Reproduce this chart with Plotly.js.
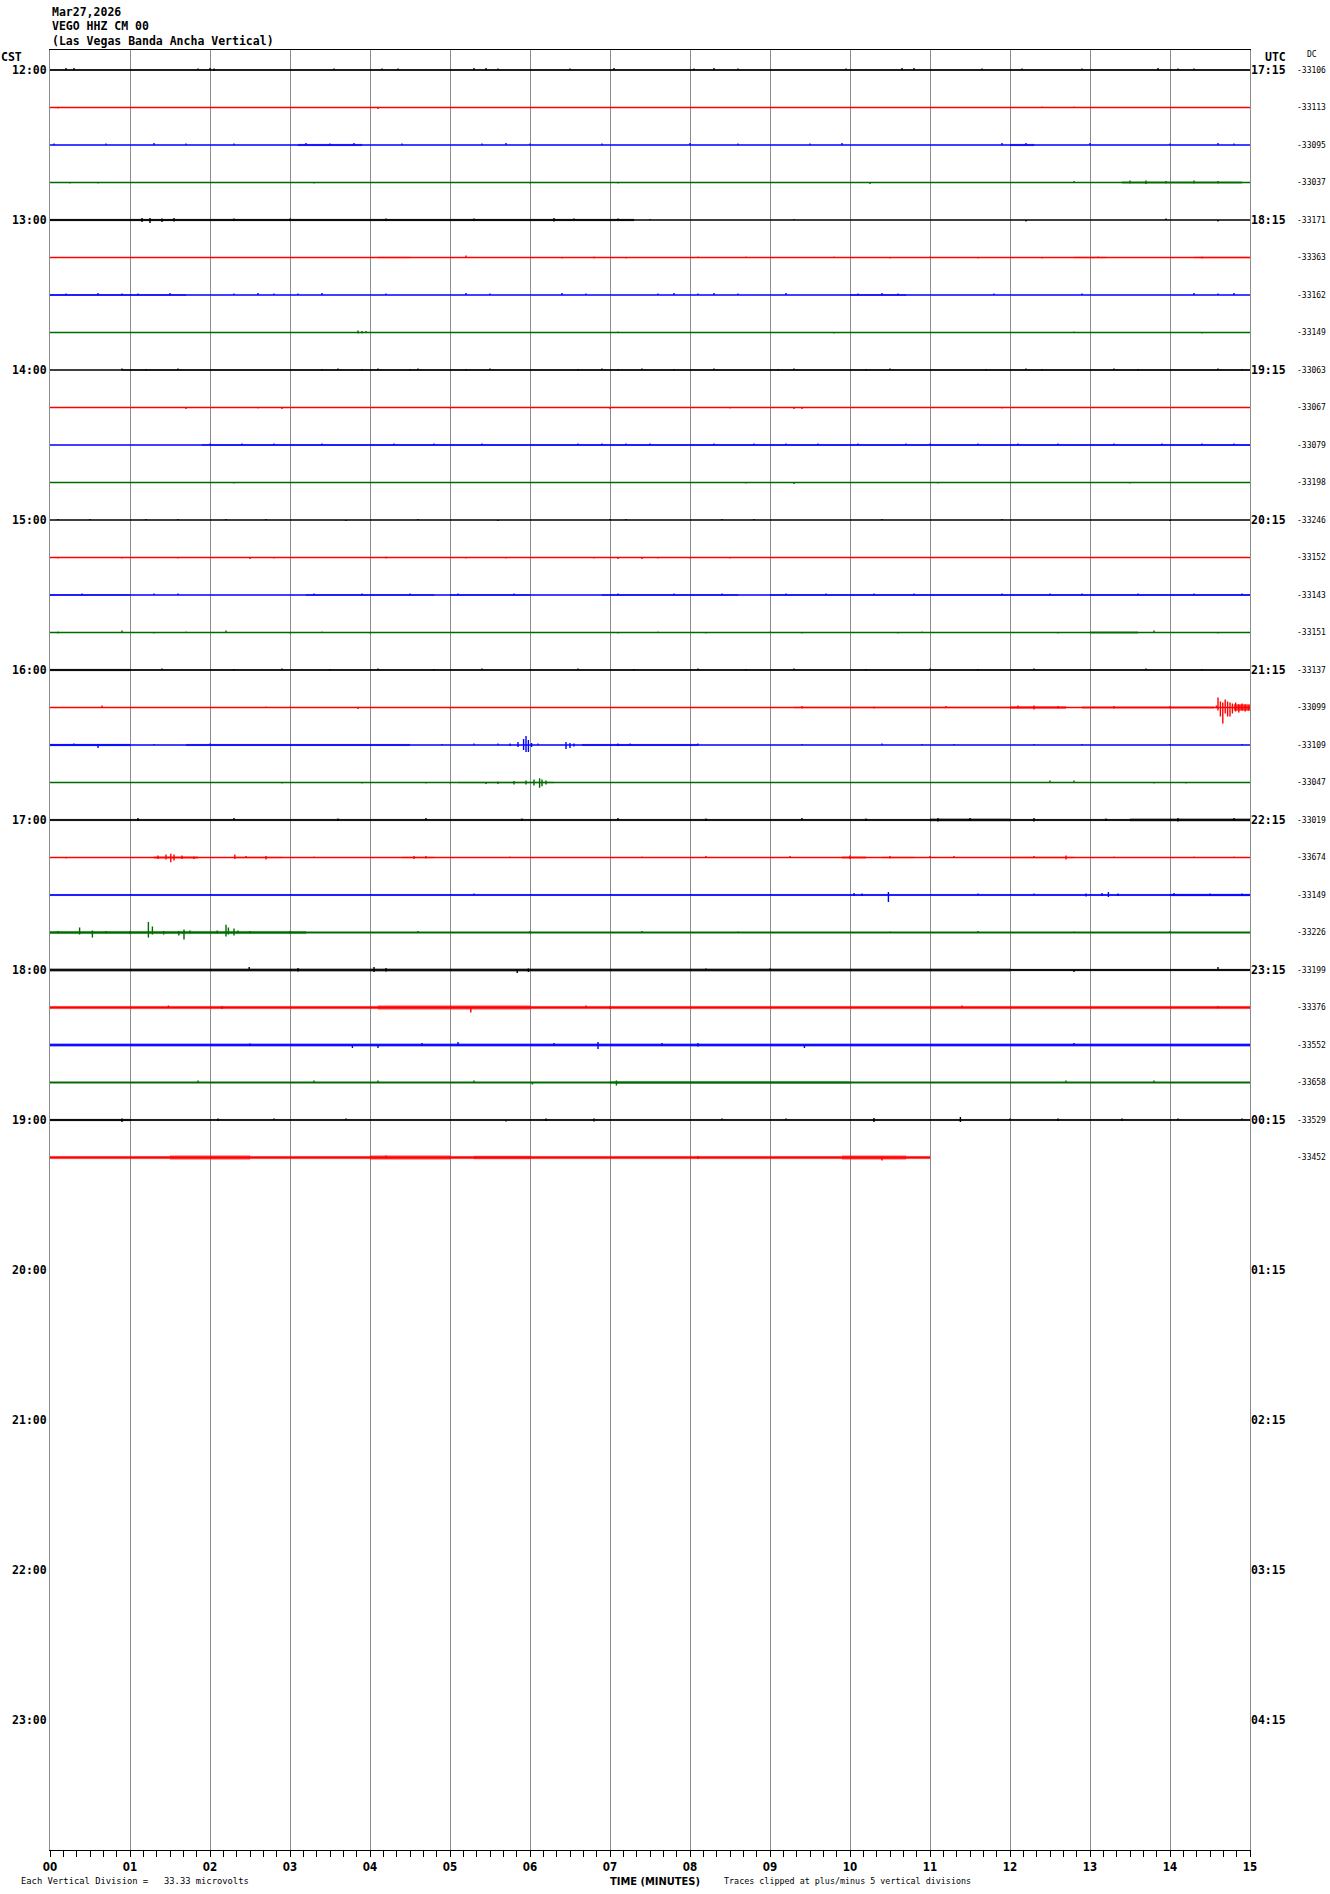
<!DOCTYPE html>
<html><head><meta charset="utf-8">
<script src="https://cdn.plot.ly/plotly-3.0.1.min.js"></script>
<style>html,body{margin:0;padding:0;background:#fff}</style>
</head><body><div id="chart" style="width:1330px;height:1894px"></div>
<script>
// ---------------- DATA ----------------
const headerLines = ['Mar27,2026', 'VEGO HHZ CM 00', '(Las Vegas Banda Ancha Vertical)'];
const minuteTicks = [0,1,2,3,4,5,6,7,8,9,10,11,12,13,14,15];
const minuteLabels = ['00','01','02','03','04','05','06','07','08','09','10','11','12','13','14','15'];
const hourRows = [0,4,8,12,16,20,24,28,32,36,40,44];
const hourLabelsCST = ['12:00','13:00','14:00','15:00','16:00','17:00','18:00','19:00','20:00','21:00','22:00','23:00'];
const hourLabelsUTC = ['17:15','18:15','19:15','20:15','21:15','22:15','23:15','00:15','01:15','02:15','03:15','04:15'];
const dcValues = [-33106,-33113,-33095,-33037,-33171,-33363,-33162,-33149,-33063,-33067,-33079,-33198,
  -33246,-33152,-33143,-33151,-33137,-33099,-33109,-33047,-33019,-33674,-33149,-33226,
  -33199,-33376,-33552,-33658,-33529,-33452];
const traceColors = ['#000000','#ff0000','#0000ff','#006a00'];
const traceEndMinute = [15,15,15,15,15,15,15,15,15,15,15,15,15,15,15,15,15,15,15,15,15,15,15,15,15,15,15,15,15,11];
const divisionsPerRow = 5;   // vertical divisions between neighbouring trace baselines
const clipDivisions = 5;
const scaleText = 'Each Vertical Division =   33.33 microvolts';
const clipText = 'Traces clipped at plus/minus 5 vertical divisions';
const axisTitle = 'TIME (MINUTES)';

// background noise bands per trace: [start min, end min, half amplitude in divisions]
const noiseBands = [
  [[0,15,0.07]],
  [],
  [[3.1,3.9,0.1],[12.0,12.3,0.1]],
  [[13.4,14.9,0.1]],
  [[0,7.3,0.12]],
  [[4.1,4.5,0.07],[12.8,13.2,0.07],[14.3,15,0.07]],
  [[0,1.7,0.07],[10.0,10.7,0.07]],
  [],
  [[0.9,15,0.06]],
  [],
  [[1.9,15,0.07]],
  [],
  [],
  [],
  [[0,1,0.06],[3.2,4.8,0.06],[5,6,0.06],[6.9,8.6,0.06],[9,15,0.06]],
  [[13.0,13.6,0.1]],
  [[0,1.0,0.12],[1,15,0.06]],
  [[9.3,12.0,0.08],[12.0,12.7,0.13],[12.9,14.55,0.1],[14.8,15,0.4]],
  [[0,1.0,0.12],[1.7,4.5,0.09],[6.65,8.1,0.09]],
  [[5.1,6.3,0.07]],
  [[0,15,0.1],[11,12,0.15],[13.5,15,0.15]],
  [[1.3,1.85,0.1],[2.3,2.9,0.07],[4.4,4.8,0.07],[9.9,10.2,0.1],[10.4,10.8,0.07],[12.0,12.8,0.07]],
  [[0,15,0.08],[14.0,15,0.12]],
  [[0,3.2,0.16],[3.2,15,0.09]],
  [[0,12,0.17],[12,15,0.13]],
  [[0,15,0.17],[4.1,6.0,0.23]],
  [[0,15,0.17]],
  [[0,15,0.09],[7.0,10.0,0.13]],
  [[0,1.0,0.12],[1,15,0.08]],
  [[0,11,0.17],[1.5,2.5,0.23],[4.0,5.0,0.23],[5.3,6.0,0.2],[9.9,10.7,0.22]]
];

// discrete excursions per trace: [minute, up (divisions), down (divisions)]
const spikes = [
  [[0.2,0.27,0],[0.3,0.27,0],[1.85,0.2,0],[2.0,0.27,0],[2.05,0.2,0.13],[3.55,0.2,0],[4.15,0.2,0],[4.35,0.2,0],[5.3,0.27,0],[5.45,0.27,0],[5.6,0.2,0],[6.5,0.2,0],[7.05,0.27,0],[8.05,0.2,0],[8.3,0.27,0],[8.6,0.2,0],[9.95,0.2,0],[10.65,0.27,0],[10.8,0.27,0],[11.65,0.2,0],[12.15,0.2,0],[12.9,0.2,0],[13.85,0.27,0],[14.1,0.2,0],[14.3,0.2,0]],
  [[0.1,0,0.13],[4.1,0,0.2],[12.4,0.13,0],[12.8,0.13,0]],
  [[0.05,0.2,0],[0.7,0.2,0],[1.3,0.27,0],[1.7,0.2,0],[2.3,0.2,0],[3.2,0.27,0],[3.5,0.2,0],[3.8,0.27,0],[4.4,0.2,0],[5.4,0.2,0],[5.7,0.27,0],[6.0,0.2,0],[6.9,0.2,0],[8.0,0.27,0],[8.6,0.2,0],[9.5,0.2,0],[9.9,0.27,0],[11.9,0.27,0],[12.2,0.27,0],[13.0,0.27,0],[14.0,0.2,0],[14.6,0.27,0],[14.8,0.2,0]],
  [[0.25,0,0.13],[0.6,0,0.13],[3.3,0,0.13],[6.0,0,0.13],[7.1,0,0.13],[10.25,0,0.2],[12.8,0.2,0],[13.5,0.27,0.13],[13.7,0.27,0.2],[13.95,0.2,0.13],[14.3,0.27,0.13],[14.6,0.2,0.13]],
  [[1.15,0.27,0.27],[1.25,0.27,0.4],[1.4,0.2,0.27],[1.55,0.27,0.2],[2.3,0.2,0.13],[3.0,0.2,0.13],[4.2,0.2,0.13],[5.3,0.2,0.13],[6.3,0.27,0.2],[6.55,0.2,0],[7.1,0.2,0],[7.5,0.13,0],[9.3,0.13,0],[12.2,0,0.2],[13.95,0.2,0],[14.6,0,0.2]],
  [[5.2,0.27,0],[6.4,0,0.13],[6.8,0.13,0.13],[7.2,0,0.13],[8.1,0.13,0],[8.7,0.13,0],[9.8,0.13,0],[10.5,0,0.13],[11.0,0.13,0],[11.6,0,0.13],[12.4,0,0.13],[13.1,0.13,0],[14.4,0.13,0.13]],
  [[0.2,0.2,0],[0.6,0.27,0],[0.9,0.2,0],[1.1,0.2,0],[1.5,0.27,0],[2.3,0.2,0],[2.6,0.27,0],[2.8,0.2,0],[3.1,0.2,0],[3.4,0.27,0],[4.2,0.2,0],[5.2,0.27,0],[5.5,0.2,0],[6.4,0.27,0],[6.7,0.2,0],[7.6,0.2,0],[7.8,0.27,0],[8.1,0.2,0],[8.3,0.27,0],[8.6,0.2,0],[9.2,0.27,0],[10.1,0.2,0],[10.4,0.27,0],[10.6,0.2,0],[11.8,0.2,0],[12.9,0.2,0],[14.3,0.27,0],[14.6,0.2,0],[14.8,0.27,0]],
  [[3.85,0.27,0.13],[3.9,0.2,0.13],[3.95,0.2,0],[7.1,0.13,0],[9.8,0,0.13],[12.8,0.13,0],[14.4,0,0.13]],
  [[0.9,0.2,0],[1.2,0.13,0],[1.6,0.2,0],[3.4,0.13,0],[3.6,0.2,0],[3.9,0.13,0],[4.1,0.2,0],[4.5,0.13,0],[4.6,0.2,0],[5.2,0.13,0],[5.5,0.2,0],[6.6,0.13,0],[6.9,0.2,0],[7.1,0.13,0],[7.4,0.2,0],[7.8,0.13,0],[8.3,0.2,0],[9.1,0.13,0],[9.3,0.2,0],[10.2,0.13,0],[10.5,0.2,0],[11.7,0.13,0],[12.2,0.2,0],[12.4,0.13,0],[13.3,0.2,0],[13.6,0.13,0],[14.6,0.2,0],[14.9,0.13,0]],
  [[1.7,0,0.2],[2.6,0,0.13],[2.9,0,0.2],[5.0,0,0.13],[7.0,0,0.2],[8.5,0,0.13],[9.3,0,0.2],[9.4,0,0.2],[11.9,0,0.13]],
  [[2.0,0.2,0],[2.4,0.2,0],[2.8,0.2,0],[3.4,0.2,0],[4.3,0.2,0],[4.8,0.2,0],[5.4,0.2,0],[6.6,0.2,0],[6.9,0.2,0],[7.2,0.2,0],[7.5,0.2,0],[8.3,0.2,0],[8.8,0.2,0],[9.2,0.2,0],[9.6,0.2,0],[10.1,0.2,0],[10.7,0.2,0],[11.0,0.2,0],[11.6,0.2,0],[12.1,0.2,0],[12.6,0.2,0],[13.3,0.2,0],[13.9,0.2,0],[14.4,0.2,0],[14.8,0.2,0]],
  [[2.3,0,0.13],[8.7,0,0.13],[9.3,0,0.2],[11.1,0,0.13],[13.5,0,0.13]],
  [[0.1,0.13,0],[0.5,0.13,0],[1.2,0.13,0],[1.6,0.13,0],[2.2,0.13,0],[2.7,0.13,0],[3.7,0,0.13],[4.6,0.13,0],[5.6,0,0.13],[7.0,0.13,0],[7.2,0.13,0],[8.4,0.13,0],[8.8,0.13,0],[10.4,0.13,0],[11.9,0.13,0],[14.0,0,0.13]],
  [[0.1,0,0.13],[0.9,0,0.13],[1.6,0,0.13],[2.5,0,0.2],[2.8,0,0.13],[4.2,0.13,0.13],[5.2,0,0.13],[5.7,0,0.13],[6.8,0,0.13],[7.1,0,0.2],[7.4,0,0.2],[7.6,0,0.13],[8.0,0,0.13],[8.5,0,0.13]],
  [[0.4,0.2,0],[1.3,0.2,0],[1.6,0.2,0],[3.3,0.2,0],[3.9,0.2,0],[4.5,0.2,0],[5.1,0.2,0],[5.8,0.2,0],[7.1,0.2,0],[7.8,0.2,0],[8.4,0.2,0],[9.2,0.2,0],[9.7,0.2,0],[10.3,0.2,0],[10.8,0.2,0],[11.9,0.2,0],[12.5,0.2,0],[12.9,0.2,0],[13.6,0.2,0],[14.3,0.2,0],[14.9,0.2,0]],
  [[0.1,0.13,0.13],[0.9,0.27,0],[1.3,0,0.13],[1.7,0.13,0],[2.2,0.27,0],[3.0,0,0.13],[3.4,0.13,0],[4.0,0,0.13],[7.1,0,0.13],[7.6,0.13,0],[8.2,0,0.13],[9.0,0.13,0],[9.4,0,0.13],[10.6,0,0.13],[10.9,0.13,0],[12.6,0,0.13],[13.8,0.27,0],[14.6,0,0.13]],
  [[1.4,0.2,0],[2.3,0.13,0],[2.9,0.2,0],[3.5,0.13,0],[4.1,0.2,0],[4.8,0.13,0],[5.4,0.2,0],[6.0,0.13,0],[6.6,0.2,0],[7.3,0.13,0],[8.1,0.2,0],[8.7,0.13,0],[9.3,0.2,0],[10.2,0.13,0],[11.0,0.2,0],[11.6,0.13,0],[12.3,0.2,0],[13.0,0.13,0],[13.7,0.2,0],[14.4,0.13,0]],
  [[0.65,0.27,0],[2.7,0.13,0],[3.0,0.13,0],[3.85,0,0.2],[5.0,0,0.13],[9.4,0.2,0.13],[10.3,0.13,0.13],[11.2,0.2,0],[12.1,0.27,0.13],[12.3,0.27,0.27],[12.6,0.2,0.13],[13.3,0.2,0.13],[14.0,0.2,0.13],[14.58,0.27,0.13],[14.6,1.33,0.4],[14.63,0.8,1.2],[14.66,0.67,2.13],[14.69,1.07,0.8],[14.72,0.8,1.2],[14.75,0.67,1.2],[14.78,0.53,0.8],[14.82,0.67,0.53],[14.86,0.4,0.67],[14.9,0.53,0.4],[14.94,0.4,0.53],[14.98,0.27,0.4]],
  [[0.3,0.2,0],[0.6,0.13,0.4],[1.3,0.13,0],[2.0,0.2,0],[4.9,0.13,0],[5.3,0.2,0],[5.6,0.2,0],[5.75,0.2,0.13],[5.85,0.4,0.27],[5.92,0.8,0.67],[5.95,1.2,0.93],[5.98,0.67,0.93],[6.02,0.27,0.27],[6.1,0.2,0],[6.45,0.4,0.53],[6.5,0.27,0.4],[6.55,0.2,0.2],[7.1,0.2,0.13],[7.25,0.2,0],[8.1,0.2,0],[9.4,0.13,0],[10.4,0.2,0],[10.9,0.13,0],[11.3,0.13,0],[12.3,0.13,0],[12.9,0.13,0],[14.0,0.13,0],[14.9,0.13,0]],
  [[2.9,0,0.13],[3.9,0,0.13],[4.7,0,0.13],[5.0,0,0.13],[5.45,0,0.2],[5.6,0.13,0.2],[5.8,0.2,0.27],[5.95,0.27,0.27],[6.05,0.4,0.4],[6.12,0.57,0.71],[6.15,0.4,0.5],[6.2,0.27,0.27],[12.5,0.27,0],[12.8,0.27,0],[13.8,0,0.13],[14.2,0,0.13]],
  [[1.1,0.27,0.13],[2.3,0.27,0],[3.6,0.2,0.13],[4.7,0.27,0],[5.9,0.2,0.13],[7.1,0.27,0],[8.2,0.2,0.13],[9.4,0.27,0],[10.2,0.2,0.13],[11.1,0.27,0.2],[11.5,0.27,0.13],[12.3,0.27,0.2],[13.2,0.2,0.13],[14.1,0.27,0.2],[14.8,0.27,0.13]],
  [[0.2,0,0.13],[1.35,0.27,0.2],[1.45,0.4,0.27],[1.51,0.5,0.63],[1.55,0.4,0.4],[1.65,0.27,0.2],[1.8,0.13,0.2],[2.31,0.4,0.2],[2.45,0.2,0],[2.7,0.2,0.27],[3.3,0.13,0],[4.55,0.2,0.2],[4.7,0.2,0.13],[5.75,0.13,0],[7.4,0.13,0],[8.2,0.2,0],[9.25,0.2,0],[10.0,0.27,0.2],[10.5,0.2,0.13],[11.0,0.2,0],[11.3,0.2,0],[12.3,0.2,0],[12.7,0.27,0.27],[13.3,0.13,0],[14.3,0.13,0],[14.8,0.13,0]],
  [[5.3,0.2,0],[10.05,0.27,0.13],[10.15,0.2,0.13],[10.48,0.4,0.93],[11.6,0.2,0],[12.3,0.2,0],[12.95,0.2,0.2],[13.15,0.27,0.13],[13.23,0.4,0.27],[13.35,0.2,0.13],[14.05,0.27,0.13],[14.5,0.2,0.13],[14.9,0.2,0.13]],
  [[0.1,0.2,0.13],[0.37,0.67,0.27],[0.53,0.27,0.67],[0.7,0.2,0.13],[1.0,0.2,0.2],[1.23,1.4,0.67],[1.28,0.8,0.27],[1.42,0.2,0.27],[1.61,0.2,0.4],[1.675,0.4,0.93],[1.75,0.27,0.13],[2.09,0.27,0.13],[2.2,1.03,0.53],[2.23,0.67,0.27],[2.3,0.53,0.4],[2.35,0.27,0.13],[2.5,0.2,0.13],[3.0,0.2,0.13],[4.6,0.2,0],[6.0,0.2,0.13],[7.4,0.2,0],[8.6,0.13,0],[10.5,0.13,0],[11.6,0.2,0],[12.8,0.13,0],[14.0,0.2,0]],
  [[2.49,0.4,0],[3.1,0.27,0.2],[4.05,0.4,0.27],[4.2,0.27,0.2],[5.84,0,0.4],[5.98,0.2,0.27],[8.2,0.2,0],[9.0,0.2,0],[12.8,0,0.27],[14.6,0.4,0]],
  [[1.48,0.27,0],[2.15,0.2,0.2],[5.26,0,0.67],[6.7,0.27,0],[7.0,0.2,0.2],[11.4,0.27,0],[14.6,0.2,0.13]],
  [[2.5,0.2,0.13],[3.78,0,0.4],[4.1,0,0.4],[4.65,0.27,0.13],[5.1,0.4,0.13],[6.3,0.27,0.13],[6.85,0.4,0.53],[7.65,0.27,0.13],[8.1,0.27,0.2],[9.43,0,0.4],[12.8,0.27,0]],
  [[1.85,0.27,0],[3.3,0.27,0],[4.1,0.27,0],[5.3,0.27,0],[6.03,0,0.27],[7.08,0.27,0.4],[12.7,0.27,0],[13.8,0.27,0]],
  [[0.9,0.2,0.27],[2.1,0.2,0.13],[2.8,0.2,0],[3.7,0.2,0],[5.7,0,0.2],[6.2,0.2,0.13],[6.8,0.2,0.2],[8.4,0.2,0],[9.2,0.2,0],[10.3,0.27,0.27],[11.38,0.4,0.27],[12.0,0.2,0],[12.6,0.2,0.13],[13.4,0.2,0.13],[14.1,0.2,0],[14.9,0.2,0]],
  [[4.2,0.27,0],[8.1,0.2,0.2],[10.4,0,0.4]]
];

// ---------------- BUILD ----------------
const toRows = a => Math.min(a, clipDivisions) / divisionsPerRow;
const withAlpha = (hex, a) => {
  const n = parseInt(hex.slice(1), 16);
  return 'rgba(' + ((n >> 16) & 255) + ',' + ((n >> 8) & 255) + ',' + (n & 255) + ',' + a + ')';
};
const traces = [];
for (let k = 0; k < dcValues.length; k++) {
  const color = traceColors[k % traceColors.length];
  const end = traceEndMinute[k];
  const bx = [], by = [];
  noiseBands[k].forEach(([s, e, a]) => {
    const ee = Math.min(e, end), h = toRows(a);
    bx.push(s, ee, ee, s, s, null);
    by.push(k - h, k - h, k + h, k + h, k - h, null);
  });
  if (bx.length) {
    traces.push({type:'scatter', mode:'lines', x:bx, y:by, fill:'toself', fillcolor:withAlpha(color, 0.75),
      line:{color:withAlpha(color, 0.75), width:0.3}, hoverinfo:'skip', showlegend:false});
  }
  const sx = [0], sy = [k];
  spikes[k].slice().sort((p, q) => p[0] - q[0]).forEach(([t, u, d]) => {
    if (t > end) return;
    sx.push(t, t, t, t);
    sy.push(k, k - toRows(u), k + toRows(d), k);
  });
  sx.push(end); sy.push(k);
  traces.push({type:'scatter', mode:'lines', x:sx, y:sy, line:{color:color, width:1.4},
    hoverinfo:'skip', showlegend:false});
}
traces.push({type:'scatter', mode:'lines', x:[null], y:[null], yaxis:'y2', hoverinfo:'skip', showlegend:false});

// pixel helpers for the plot frame (l=50, plot width 1200, t=50, plot height 1800)
const PL = 50, PW = 1200, PT = 50, PH = 1800;
const px2x = px => (px - PL) / PW;
const px2y = py => (PT + PH - py) / PH;

const mono = 'DejaVu Sans Mono, monospace';
const annotations = [];
const headerY = [12, 26.5, 41.5];
headerLines.forEach((t, i) => annotations.push({text:t, xref:'paper', yref:'paper', x:0, y:px2y(headerY[i]),
  xanchor:'left', yanchor:'middle', showarrow:false, font:{family:mono, size:11.5, color:'#000', weight:'bold'}}));
annotations.push({text:'CST', xref:'paper', yref:'paper', x:px2x(-1), y:px2y(56.5), xanchor:'left', yanchor:'middle',
  showarrow:false, font:{family:mono, size:11.5, color:'#000', weight:'bold'}});
annotations.push({text:'UTC', xref:'paper', yref:'paper', x:px2x(1263), y:px2y(56.5), xanchor:'left', yanchor:'middle',
  showarrow:false, font:{family:mono, size:11.5, color:'#000', weight:'bold'}});
annotations.push({text:'DC', xref:'paper', yref:'paper', x:px2x(1305), y:px2y(54), xanchor:'left', yanchor:'middle',
  showarrow:false, font:{family:mono, size:8, color:'#000'}});
dcValues.forEach((v, k) => annotations.push({text:String(v), xref:'paper', yref:'y', x:px2x(1295), y:k,
  xanchor:'left', yanchor:'middle', showarrow:false, font:{family:mono, size:8, color:'#000'}}));
annotations.push({text:scaleText.replace(/ /g, '&nbsp;'), xref:'paper', yref:'paper', x:px2x(19), y:px2y(1881),
  xanchor:'left', yanchor:'middle', showarrow:false, font:{family:mono, size:8.8, color:'#000'}});
annotations.push({text:axisTitle, xref:'paper', yref:'paper', x:px2x(608), y:px2y(1882),
  xanchor:'left', yanchor:'middle', showarrow:false, font:{family:'DejaVu Sans Condensed, DejaVu Sans', size:11, color:'#000', weight:'bold'}});
annotations.push({text:clipText, xref:'paper', yref:'paper', x:px2x(722), y:px2y(1881),
  xanchor:'left', yanchor:'middle', showarrow:false, font:{family:mono, size:8.4, color:'#000'}});

const layout = {
  width:1330, height:1894,
  margin:{l:PL, r:1330 - PL - PW, t:PT, b:1894 - PT - PH, pad:0},
  paper_bgcolor:'#fff', plot_bgcolor:'#fff',
  showlegend:false, hovermode:false,
  xaxis:{range:[0,15], tickmode:'array', tickvals:minuteTicks, ticktext:minuteLabels,
    ticks:'outside', ticklen:6, tickwidth:1, tickcolor:'#000',
    showgrid:true, gridcolor:'#8c8c8c', gridwidth:1, zeroline:false,
    showline:true, linecolor:'#000', linewidth:1, mirror:true,
    tickfont:{family:'DejaVu Sans Condensed, DejaVu Sans', size:11.5, color:'#000', weight:'bold'},
    minor:{tickmode:'linear', tick0:0, dtick:1/6, ticks:'outside', ticklen:6, tickwidth:1, tickcolor:'#000', showgrid:false}},
  yaxis:{range:[PH/37.5 - 0.5333, -0.5333], tickmode:'array', tickvals:hourRows, ticktext:hourLabelsCST,
    ticks:'', showgrid:false, zeroline:false, showline:true, linecolor:'#8c8c8c', linewidth:1, mirror:true,
    tickfont:{family:mono, size:11.5, color:'#000', weight:'bold'}},
  yaxis2:{range:[PH/37.5 - 0.5333, -0.5333], overlaying:'y', side:'right', tickmode:'array', tickvals:hourRows,
    ticktext:hourLabelsUTC, ticks:'', showgrid:false, zeroline:false, showline:false,
    tickfont:{family:mono, size:11.5, color:'#000', weight:'bold'}},
  annotations:annotations
};
Plotly.newPlot('chart', traces, layout, {staticPlot:true, displayModeBar:false});
</script></body></html>
